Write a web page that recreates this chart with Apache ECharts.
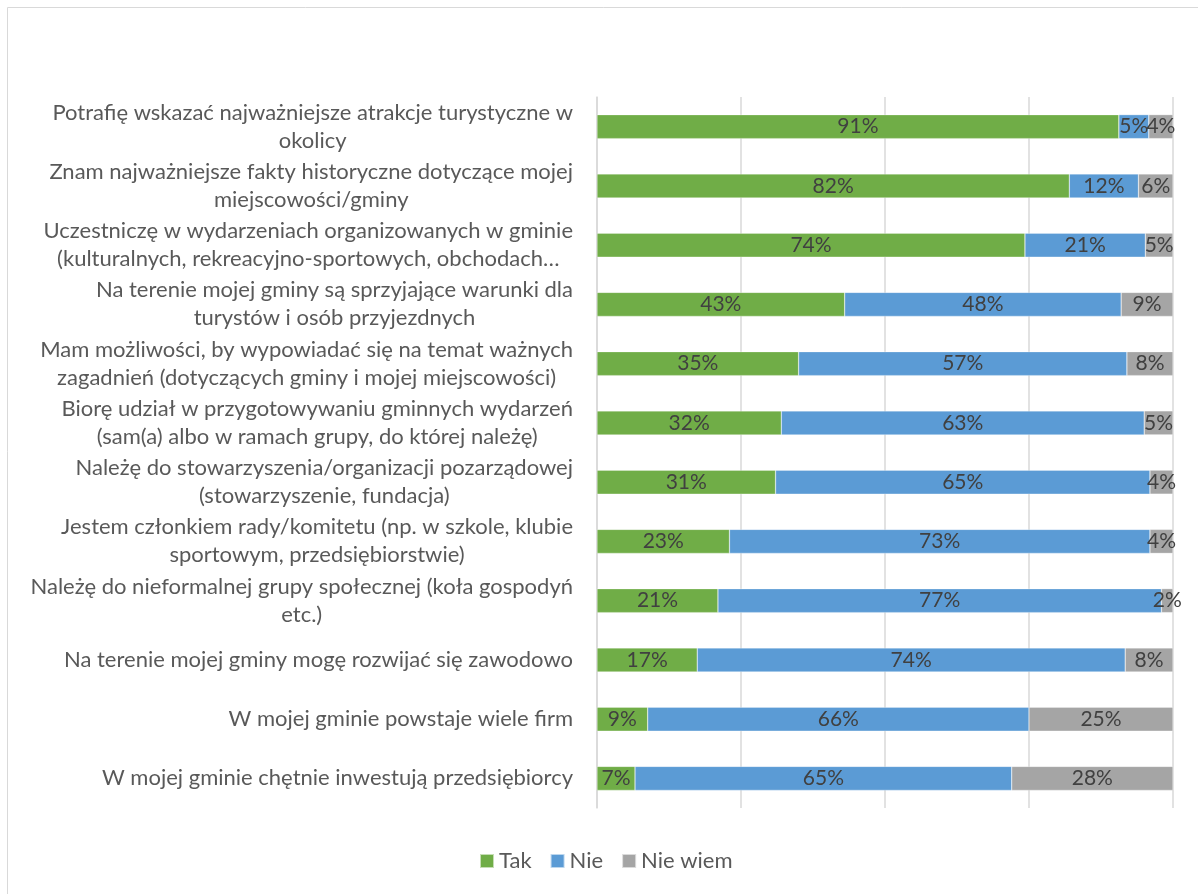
<!DOCTYPE html>
<html>
<head>
<meta charset="utf-8">
<script src="https://cdn.jsdelivr.net/npm/echarts@6/dist/echarts.min.js"></script>
<style>html,body{margin:0;padding:0;background:#fff}#c{width:1198px;height:894px}</style>
</head>
<body>
<div id="c"></div>
<script>
const categories = [
  "Potrafię wskazać najważniejsze atrakcje turystyczne w\nokolicy",
  "Znam najważniejsze fakty historyczne dotyczące mojej\nmiejscowości/gminy",
  "Uczestniczę w wydarzeniach organizowanych w gminie\n(kulturalnych, rekreacyjno-sportowych, obchodach…",
  "Na terenie mojej gminy są sprzyjające warunki dla\nturystów i osób przyjezdnych",
  "Mam możliwości, by wypowiadać się na temat ważnych\nzagadnień (dotyczących gminy i mojej miejscowości)",
  "Biorę udział w przygotowywaniu gminnych wydarzeń\n(sam(a) albo w ramach grupy, do której należę)",
  "Należę do stowarzyszenia/organizacji pozarządowej\n(stowarzyszenie, fundacja)",
  "Jestem członkiem rady/komitetu (np. w szkole, klubie\nsportowym, przedsiębiorstwie)",
  "Należę do nieformalnej grupy społecznej (koła gospodyń\netc.)",
  "Na terenie mojej gminy mogę rozwijać się zawodowo",
  "W mojej gminie powstaje wiele firm",
  "W mojej gminie chętnie inwestują przedsiębiorcy"
];
const seriesNames = ["Tak", "Nie", "Nie wiem"];
const tak    = [90.6, 82.0, 74.3, 43.0, 35.0, 32.0, 31.0, 23.0, 21.0, 17.4, 8.8, 6.6];
const nie    = [5.2, 12.0, 20.9, 48.0, 57.0, 63.0, 65.0, 73.0, 77.0, 74.3, 66.2, 65.4];
const nieWiem= [4.2, 6.0, 4.8, 9.0, 8.0, 5.0, 4.0, 4.0, 2.0, 8.3, 25.0, 28.0];
const colors = ["#70ad47", "#5b9bd5", "#a5a5a5"];

const font = "Lato, 'Open Sans', sans-serif";
const chart = echarts.init(document.getElementById('c'), null, {renderer: 'canvas'});

function mk(name, data, color) {
  return {
    name: name, type: 'bar', stack: 'all', data: data, barWidth: 24,
    itemStyle: {color: color, borderColor: 'rgba(255,255,255,0.6)', borderWidth: 0.5},
    label: {
      show: true, position: 'inside', color: '#404040', fontFamily: font, fontSize: 21,
      formatter: p => Math.round(p.value) + '%'
    },
    emphasis: {disabled: true}
  };
}

chart.setOption({
  animation: false,
  textStyle: {fontFamily: font},
  graphic: [{
    type: 'rect', silent: true, z: -10,
    shape: {x: 7.5, y: 7.5, width: 1400, height: 1200},
    style: {fill: 'none', stroke: '#d9d9d9', lineWidth: 1}
  }],
  legend: {
    data: seriesNames, bottom: 17, left: 474,
    itemWidth: 14, itemHeight: 14, itemGap: 18,
    icon: 'rect',
    textStyle: {color: '#595959', fontSize: 22, fontFamily: font}
  },
  grid: {left: 597, right: 25, top: 97, bottom: 86, containLabel: false},
  xAxis: {
    type: 'value', min: 0, max: 100, interval: 25,
    axisLabel: {show: false}, axisTick: {show: false}, axisLine: {show: false},
    splitLine: {show: true, lineStyle: {color: '#d9d9d9', width: 1.5}}
  },
  yAxis: {
    type: 'category', data: categories, inverse: true,
    axisLine: {show: true, lineStyle: {color: '#d9d9d9', width: 1.5}},
    axisTick: {show: false},
    axisLabel: {
      margin: 24, color: '#595959', fontSize: 22, fontFamily: font, lineHeight: 28,
      formatter: v => v.split('\n').map(s => '{c|' + s + '}').join('\n'),
      rich: {c: {align: 'center', color: '#595959', fontSize: 22, fontFamily: font, lineHeight: 28}}
    }
  },
  series: [mk(seriesNames[0], tak, colors[0]), mk(seriesNames[1], nie, colors[1]), mk(seriesNames[2], nieWiem, colors[2])]
});
</script>
</body>
</html>
